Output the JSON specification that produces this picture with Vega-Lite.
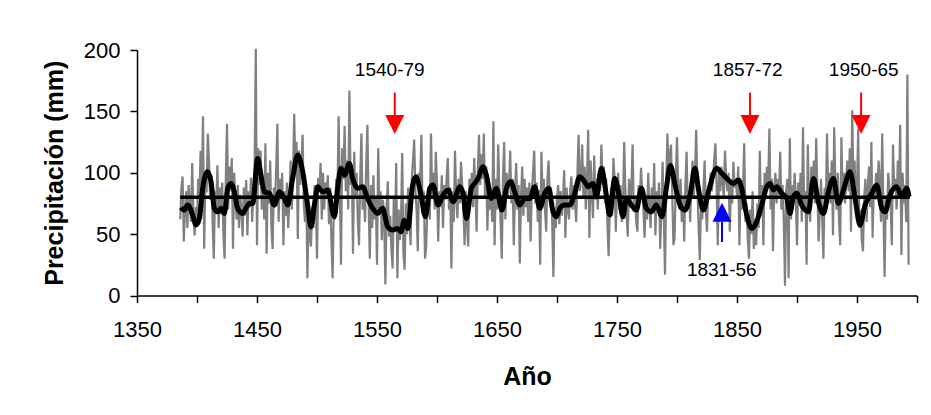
{
  "$schema": "https://vega.github.io/schema/vega-lite/v6.json",
  "autosize": "none",
  "width": 780,
  "height": 245.5,
  "padding": {"left": 137, "top": 50, "right": 14, "bottom": 119.5},
  "background": "white",
  "config": {"view": {"stroke": null}, "font": "Liberation Sans"},
  "datasets": {
    "annual": [
      {"a":1386,"p":62},{"a":1387,"p":88},{"a":1388,"p":97},{"a":1389,"p":44},
      {"a":1390,"p":70},{"a":1391,"p":85},{"a":1392,"p":55},{"a":1393,"p":90},{"a":1394,"p":75},{"a":1395,"p":60},{"a":1396,"p":108},{"a":1397,"p":66},{"a":1398,"p":49},{"a":1399,"p":72},
      {"a":1400,"p":58},{"a":1401,"p":95},{"a":1402,"p":80},{"a":1403,"p":118},{"a":1404,"p":90},{"a":1405,"p":146},{"a":1406,"p":38},{"a":1407,"p":100},{"a":1408,"p":84},{"a":1409,"p":132},
      {"a":1410,"p":110},{"a":1411,"p":78},{"a":1412,"p":98},{"a":1413,"p":60},{"a":1414,"p":30},{"a":1415,"p":85},{"a":1416,"p":70},{"a":1417,"p":106},{"a":1418,"p":55},{"a":1419,"p":88},
      {"a":1420,"p":66},{"a":1421,"p":92},{"a":1422,"p":50},{"a":1423,"p":30},{"a":1424,"p":95},{"a":1425,"p":140},{"a":1426,"p":70},{"a":1427,"p":105},{"a":1428,"p":85},{"a":1429,"p":112},
      {"a":1430,"p":38},{"a":1431,"p":100},{"a":1432,"p":78},{"a":1433,"p":62},{"a":1434,"p":90},{"a":1435,"p":55},{"a":1436,"p":82},{"a":1437,"p":70},{"a":1438,"p":48},{"a":1439,"p":88},
      {"a":1440,"p":65},{"a":1441,"p":94},{"a":1442,"p":49},{"a":1443,"p":85},{"a":1444,"p":72},{"a":1445,"p":96},{"a":1446,"p":60},{"a":1447,"p":88},{"a":1448,"p":105},{"a":1449,"p":201},
      {"a":1450,"p":41},{"a":1451,"p":120},{"a":1452,"p":90},{"a":1453,"p":118},{"a":1454,"p":70},{"a":1455,"p":95},{"a":1456,"p":62},{"a":1457,"p":124},{"a":1458,"p":34},{"a":1459,"p":100},
      {"a":1460,"p":75},{"a":1461,"p":110},{"a":1462,"p":56},{"a":1463,"p":38},{"a":1464,"p":88},{"a":1465,"p":72},{"a":1466,"p":105},{"a":1467,"p":140},{"a":1468,"p":60},{"a":1469,"p":95},
      {"a":1470,"p":80},{"a":1471,"p":100},{"a":1472,"p":41},{"a":1473,"p":85},{"a":1474,"p":65},{"a":1475,"p":92},{"a":1476,"p":55},{"a":1477,"p":78},{"a":1478,"p":110},{"a":1479,"p":70},
      {"a":1480,"p":95},{"a":1481,"p":148},{"a":1482,"p":100},{"a":1483,"p":125},{"a":1484,"p":46},{"a":1485,"p":118},{"a":1486,"p":90},{"a":1487,"p":105},{"a":1488,"p":131},{"a":1489,"p":75},
      {"a":1490,"p":60},{"a":1491,"p":85},{"a":1492,"p":14},{"a":1493,"p":70},{"a":1494,"p":48},{"a":1495,"p":40},{"a":1496,"p":72},{"a":1497,"p":55},{"a":1498,"p":90},{"a":1499,"p":78},
      {"a":1500,"p":30},{"a":1501,"p":96},{"a":1502,"p":85},{"a":1503,"p":108},{"a":1504,"p":62},{"a":1505,"p":100},{"a":1506,"p":70},{"a":1507,"p":92},{"a":1508,"p":80},{"a":1509,"p":98},
      {"a":1510,"p":58},{"a":1511,"p":88},{"a":1512,"p":45},{"a":1513,"p":14},{"a":1514,"p":70},{"a":1515,"p":62},{"a":1516,"p":95},{"a":1517,"p":78},{"a":1518,"p":146},{"a":1519,"p":90},
      {"a":1520,"p":25},{"a":1521,"p":120},{"a":1522,"p":95},{"a":1523,"p":138},{"a":1524,"p":85},{"a":1525,"p":110},{"a":1526,"p":70},{"a":1527,"p":167},{"a":1528,"p":90},{"a":1529,"p":105},
      {"a":1530,"p":34},{"a":1531,"p":117},{"a":1532,"p":80},{"a":1533,"p":100},{"a":1534,"p":62},{"a":1535,"p":41},{"a":1536,"p":95},{"a":1537,"p":132},{"a":1538,"p":70},{"a":1539,"p":88},
      {"a":1540,"p":60},{"a":1541,"p":105},{"a":1542,"p":139},{"a":1543,"p":75},{"a":1544,"p":30},{"a":1545,"p":90},{"a":1546,"p":55},{"a":1547,"p":98},{"a":1548,"p":62},{"a":1549,"p":80},
      {"a":1550,"p":25},{"a":1551,"p":120},{"a":1552,"p":70},{"a":1553,"p":85},{"a":1554,"p":45},{"a":1555,"p":78},{"a":1556,"p":60},{"a":1557,"p":9},{"a":1558,"p":72},{"a":1559,"p":93},
      {"a":1560,"p":48},{"a":1561,"p":65},{"a":1562,"p":38},{"a":1563,"p":22},{"a":1564,"p":80},{"a":1565,"p":55},{"a":1566,"p":108},{"a":1567,"p":14},{"a":1568,"p":70},{"a":1569,"p":45},
      {"a":1570,"p":60},{"a":1571,"p":116},{"a":1572,"p":35},{"a":1573,"p":21},{"a":1574,"p":75},{"a":1575,"p":50},{"a":1576,"p":88},{"a":1577,"p":62},{"a":1578,"p":41},{"a":1579,"p":95},
      {"a":1580,"p":110},{"a":1581,"p":127},{"a":1582,"p":85},{"a":1583,"p":70},{"a":1584,"p":36},{"a":1585,"p":100},{"a":1586,"p":92},{"a":1587,"p":131},{"a":1588,"p":68},{"a":1589,"p":85},
      {"a":1590,"p":30},{"a":1591,"p":40},{"a":1592,"p":75},{"a":1593,"p":88},{"a":1594,"p":62},{"a":1595,"p":132},{"a":1596,"p":80},{"a":1597,"p":100},{"a":1598,"p":70},{"a":1599,"p":117},
      {"a":1600,"p":90},{"a":1601,"p":44},{"a":1602,"p":85},{"a":1603,"p":72},{"a":1604,"p":98},{"a":1605,"p":55},{"a":1606,"p":90},{"a":1607,"p":78},{"a":1608,"p":95},{"a":1609,"p":112},
      {"a":1610,"p":70},{"a":1611,"p":88},{"a":1612,"p":22},{"a":1613,"p":85},{"a":1614,"p":60},{"a":1615,"p":118},{"a":1616,"p":80},{"a":1617,"p":63},{"a":1618,"p":95},{"a":1619,"p":75},
      {"a":1620,"p":109},{"a":1621,"p":90},{"a":1622,"p":70},{"a":1623,"p":41},{"a":1624,"p":85},{"a":1625,"p":60},{"a":1626,"p":40},{"a":1627,"p":95},{"a":1628,"p":78},{"a":1629,"p":100},
      {"a":1630,"p":72},{"a":1631,"p":112},{"a":1632,"p":85},{"a":1633,"p":52},{"a":1634,"p":100},{"a":1635,"p":131},{"a":1636,"p":90},{"a":1637,"p":115},{"a":1638,"p":95},{"a":1639,"p":132},
      {"a":1640,"p":80},{"a":1641,"p":105},{"a":1642,"p":53},{"a":1643,"p":92},{"a":1644,"p":70},{"a":1645,"p":88},{"a":1646,"p":60},{"a":1647,"p":142},{"a":1648,"p":41},{"a":1649,"p":95},
      {"a":1650,"p":70},{"a":1651,"p":123},{"a":1652,"p":85},{"a":1653,"p":60},{"a":1654,"p":30},{"a":1655,"p":98},{"a":1656,"p":125},{"a":1657,"p":62},{"a":1658,"p":100},{"a":1659,"p":80},
      {"a":1660,"p":90},{"a":1661,"p":118},{"a":1662,"p":75},{"a":1663,"p":95},{"a":1664,"p":41},{"a":1665,"p":85},{"a":1666,"p":108},{"a":1667,"p":70},{"a":1668,"p":90},{"a":1669,"p":26},
      {"a":1670,"p":80},{"a":1671,"p":105},{"a":1672,"p":65},{"a":1673,"p":95},{"a":1674,"p":72},{"a":1675,"p":88},{"a":1676,"p":60},{"a":1677,"p":92},{"a":1678,"p":44},{"a":1679,"p":85},
      {"a":1680,"p":100},{"a":1681,"p":118},{"a":1682,"p":75},{"a":1683,"p":92},{"a":1684,"p":60},{"a":1685,"p":86},{"a":1686,"p":25},{"a":1687,"p":117},{"a":1688,"p":80},{"a":1689,"p":95},
      {"a":1690,"p":70},{"a":1691,"p":52},{"a":1692,"p":95},{"a":1693,"p":110},{"a":1694,"p":78},{"a":1695,"p":88},{"a":1696,"p":60},{"a":1697,"p":15},{"a":1698,"p":72},{"a":1699,"p":55},
      {"a":1700,"p":80},{"a":1701,"p":90},{"a":1702,"p":58},{"a":1703,"p":85},{"a":1704,"p":65},{"a":1705,"p":78},{"a":1706,"p":102},{"a":1707,"p":47},{"a":1708,"p":88},{"a":1709,"p":70},
      {"a":1710,"p":62},{"a":1711,"p":85},{"a":1712,"p":97},{"a":1713,"p":70},{"a":1714,"p":90},{"a":1715,"p":75},{"a":1716,"p":60},{"a":1717,"p":100},{"a":1718,"p":131},{"a":1719,"p":85},
      {"a":1720,"p":95},{"a":1721,"p":123},{"a":1722,"p":80},{"a":1723,"p":105},{"a":1724,"p":70},{"a":1725,"p":95},{"a":1726,"p":135},{"a":1727,"p":47},{"a":1728,"p":110},{"a":1729,"p":85},
      {"a":1730,"p":63},{"a":1731,"p":114},{"a":1732,"p":78},{"a":1733,"p":95},{"a":1734,"p":70},{"a":1735,"p":100},{"a":1736,"p":85},{"a":1737,"p":123},{"a":1738,"p":90},{"a":1739,"p":105},
      {"a":1740,"p":75},{"a":1741,"p":95},{"a":1742,"p":60},{"a":1743,"p":32},{"a":1744,"p":70},{"a":1745,"p":88},{"a":1746,"p":65},{"a":1747,"p":112},{"a":1748,"p":95},{"a":1749,"p":52},
      {"a":1750,"p":88},{"a":1751,"p":100},{"a":1752,"p":70},{"a":1753,"p":90},{"a":1754,"p":60},{"a":1755,"p":75},{"a":1756,"p":125},{"a":1757,"p":85},{"a":1758,"p":65},{"a":1759,"p":48},
      {"a":1760,"p":95},{"a":1761,"p":72},{"a":1762,"p":88},{"a":1763,"p":123},{"a":1764,"p":68},{"a":1765,"p":80},{"a":1766,"p":60},{"a":1767,"p":52},{"a":1768,"p":90},{"a":1769,"p":75},
      {"a":1770,"p":104},{"a":1771,"p":85},{"a":1772,"p":70},{"a":1773,"p":47},{"a":1774,"p":80},{"a":1775,"p":62},{"a":1776,"p":100},{"a":1777,"p":72},{"a":1778,"p":55},{"a":1779,"p":88},
      {"a":1780,"p":70},{"a":1781,"p":108},{"a":1782,"p":49},{"a":1783,"p":85},{"a":1784,"p":75},{"a":1785,"p":92},{"a":1786,"p":38},{"a":1787,"p":70},{"a":1788,"p":109},{"a":1789,"p":65},
      {"a":1790,"p":17},{"a":1791,"p":90},{"a":1792,"p":132},{"a":1793,"p":100},{"a":1794,"p":115},{"a":1795,"p":123},{"a":1796,"p":85},{"a":1797,"p":41},{"a":1798,"p":47},{"a":1799,"p":95},
      {"a":1800,"p":129},{"a":1801,"p":88},{"a":1802,"p":70},{"a":1803,"p":95},{"a":1804,"p":60},{"a":1805,"p":80},{"a":1806,"p":44},{"a":1807,"p":90},{"a":1808,"p":117},{"a":1809,"p":72},
      {"a":1810,"p":85},{"a":1811,"p":60},{"a":1812,"p":95},{"a":1813,"p":110},{"a":1814,"p":80},{"a":1815,"p":100},{"a":1816,"p":135},{"a":1817,"p":90},{"a":1818,"p":55},{"a":1819,"p":29},
      {"a":1820,"p":75},{"a":1821,"p":62},{"a":1822,"p":85},{"a":1823,"p":110},{"a":1824,"p":70},{"a":1825,"p":52},{"a":1826,"p":90},{"a":1827,"p":78},{"a":1828,"p":100},{"a":1829,"p":85},
      {"a":1830,"p":95},{"a":1831,"p":110},{"a":1832,"p":124},{"a":1833,"p":90},{"a":1834,"p":41},{"a":1835,"p":100},{"a":1836,"p":85},{"a":1837,"p":105},{"a":1838,"p":92},{"a":1839,"p":80},
      {"a":1840,"p":118},{"a":1841,"p":95},{"a":1842,"p":85},{"a":1843,"p":100},{"a":1844,"p":52},{"a":1845,"p":90},{"a":1846,"p":75},{"a":1847,"p":109},{"a":1848,"p":88},{"a":1849,"p":95},
      {"a":1850,"p":80},{"a":1851,"p":105},{"a":1852,"p":41},{"a":1853,"p":90},{"a":1854,"p":70},{"a":1855,"p":85},{"a":1856,"p":124},{"a":1857,"p":60},{"a":1858,"p":75},{"a":1859,"p":45},
      {"a":1860,"p":30},{"a":1861,"p":70},{"a":1862,"p":50},{"a":1863,"p":85},{"a":1864,"p":38},{"a":1865,"p":62},{"a":1866,"p":41},{"a":1867,"p":75},{"a":1868,"p":55},{"a":1869,"p":118},
      {"a":1870,"p":65},{"a":1871,"p":90},{"a":1872,"p":41},{"a":1873,"p":100},{"a":1874,"p":80},{"a":1875,"p":105},{"a":1876,"p":92},{"a":1877,"p":136},{"a":1878,"p":70},{"a":1879,"p":95},
      {"a":1880,"p":36},{"a":1881,"p":88},{"a":1882,"p":100},{"a":1883,"p":75},{"a":1884,"p":95},{"a":1885,"p":82},{"a":1886,"p":117},{"a":1887,"p":70},{"a":1888,"p":90},{"a":1889,"p":60},
      {"a":1890,"p":8},{"a":1891,"p":85},{"a":1892,"p":95},{"a":1893,"p":14},{"a":1894,"p":128},{"a":1895,"p":62},{"a":1896,"p":90},{"a":1897,"p":75},{"a":1898,"p":100},{"a":1899,"p":80},
      {"a":1900,"p":41},{"a":1901,"p":92},{"a":1902,"p":75},{"a":1903,"p":100},{"a":1904,"p":60},{"a":1905,"p":137},{"a":1906,"p":70},{"a":1907,"p":85},{"a":1908,"p":25},{"a":1909,"p":123},
      {"a":1910,"p":80},{"a":1911,"p":60},{"a":1912,"p":105},{"a":1913,"p":90},{"a":1914,"p":110},{"a":1915,"p":75},{"a":1916,"p":128},{"a":1917,"p":85},{"a":1918,"p":44},{"a":1919,"p":70},
      {"a":1920,"p":95},{"a":1921,"p":62},{"a":1922,"p":30},{"a":1923,"p":88},{"a":1924,"p":70},{"a":1925,"p":132},{"a":1926,"p":85},{"a":1927,"p":100},{"a":1928,"p":75},{"a":1929,"p":110},
      {"a":1930,"p":49},{"a":1931,"p":137},{"a":1932,"p":90},{"a":1933,"p":70},{"a":1934,"p":100},{"a":1935,"p":62},{"a":1936,"p":41},{"a":1937,"p":129},{"a":1938,"p":85},{"a":1939,"p":100},
      {"a":1940,"p":75},{"a":1941,"p":95},{"a":1942,"p":110},{"a":1943,"p":85},{"a":1944,"p":120},{"a":1945,"p":52},{"a":1946,"p":151},{"a":1947,"p":95},{"a":1948,"p":110},{"a":1949,"p":75},
      {"a":1950,"p":88},{"a":1951,"p":136},{"a":1952,"p":55},{"a":1953,"p":70},{"a":1954,"p":45},{"a":1955,"p":36},{"a":1956,"p":80},{"a":1957,"p":95},{"a":1958,"p":60},{"a":1959,"p":88},
      {"a":1960,"p":105},{"a":1961,"p":72},{"a":1962,"p":125},{"a":1963,"p":47},{"a":1964,"p":90},{"a":1965,"p":78},{"a":1966,"p":100},{"a":1967,"p":85},{"a":1968,"p":110},{"a":1969,"p":95},
      {"a":1970,"p":60},{"a":1971,"p":132},{"a":1972,"p":70},{"a":1973,"p":15},{"a":1974,"p":80},{"a":1975,"p":62},{"a":1976,"p":100},{"a":1977,"p":88},{"a":1978,"p":75},{"a":1979,"p":41},
      {"a":1980,"p":123},{"a":1981,"p":85},{"a":1982,"p":95},{"a":1983,"p":70},{"a":1984,"p":110},{"a":1985,"p":80},{"a":1986,"p":139},{"a":1987,"p":33},{"a":1988,"p":100},{"a":1989,"p":75},
      {"a":1990,"p":90},{"a":1991,"p":60},{"a":1992,"p":180},{"a":1993,"p":25}
    ],
    "smooth": [
      {"a":1386.7,"s":71.8},{"a":1389.5,"s":69.6},{"a":1392.2,"s":73.7},{"a":1396.4,"s":65.5},{"a":1399.2,"s":57.4},{"a":1402,"s":62.8},{"a":1404.7,"s":87.3},{"a":1408.9,"s":100.8},{"a":1411.7,"s":92.7},{"a":1414.5,"s":71},{"a":1417.2,"s":68.2},{"a":1420,"s":71},{"a":1422.8,"s":66.9},{"a":1425.6,"s":87.3},{"a":1428.3,"s":91.3},{"a":1431.1,"s":84.5},{"a":1433.9,"s":71},{"a":1438,"s":66.9},{"a":1440.8,"s":71},{"a":1443.6,"s":75},{"a":1446.4,"s":75},{"a":1450.6,"s":111.7},{"a":1453.3,"s":98.1},{"a":1456.1,"s":84.5},{"a":1460.3,"s":83.2},{"a":1464.5,"s":73.7},{"a":1468.6,"s":84.5},{"a":1472.8,"s":79.1},{"a":1475.6,"s":73.7},{"a":1479.7,"s":95.4},{"a":1483.9,"s":114.4},{"a":1488.1,"s":100.8},{"a":1492.2,"s":73.7},{"a":1495,"s":56},{"a":1497.8,"s":73.7},{"a":1500.6,"s":88.6},{"a":1504.7,"s":84.5},{"a":1508.9,"s":85.9},{"a":1514.5,"s":64.2},{"a":1517.2,"s":87.3},{"a":1520,"s":103.6},{"a":1522.8,"s":98.1},{"a":1527,"s":107.6},{"a":1529.7,"s":95.4},{"a":1533.9,"s":87.3},{"a":1538.1,"s":88.6},{"a":1542.2,"s":79.1},{"a":1546.4,"s":71},{"a":1550.6,"s":66.9},{"a":1554.7,"s":71},{"a":1558.9,"s":56},{"a":1563.1,"s":53.3},{"a":1567.2,"s":54.6},{"a":1570,"s":51.9},{"a":1572.8,"s":61.4},{"a":1575.6,"s":54.6},{"a":1579.7,"s":90},{"a":1582.5,"s":96.8},{"a":1586.7,"s":81.8},{"a":1590.3,"s":64.2},
      {"a":1594,"s":87.3},{"a":1596.7,"s":90},{"a":1600.9,"s":73.7},{"a":1605,"s":81.8},{"a":1609.2,"s":85.9},{"a":1613.4,"s":76.4},{"a":1619,"s":88.6},{"a":1621.7,"s":83.2},{"a":1624.5,"s":62.8},{"a":1628.6,"s":87.3},{"a":1631.4,"s":91.3},{"a":1634.2,"s":95.4},{"a":1638.4,"s":104.9},{"a":1641.1,"s":98.1},{"a":1645.3,"s":79.1},{"a":1649.5,"s":87.3},{"a":1654.2,"s":69.6},{"a":1657.8,"s":87.3},{"a":1661.4,"s":92.7},{"a":1664.7,"s":84.5},{"a":1669,"s":73.7},{"a":1673.1,"s":79.1},{"a":1677.3,"s":79.1},{"a":1681.4,"s":88.6},{"a":1685.6,"s":71},{"a":1689.8,"s":83.2},{"a":1693.1,"s":87.3},{"a":1696.7,"s":68.2},{"a":1699.5,"s":64.2},{"a":1702.3,"s":71},{"a":1706.4,"s":73.7},{"a":1710.6,"s":73.7},{"a":1714.8,"s":83.2},{"a":1718.9,"s":96.8},{"a":1723.1,"s":92.7},{"a":1725.9,"s":88.6},{"a":1730,"s":91.3},{"a":1732.8,"s":80.5},{"a":1737,"s":103.6},{"a":1741.1,"s":81.8},{"a":1743.9,"s":65.5},{"a":1748.1,"s":95.4},{"a":1751.4,"s":83.2},{"a":1755,"s":64.2},{"a":1757.8,"s":79.1},{"a":1762,"s":73.7},{"a":1766.1,"s":69.6},{"a":1770.3,"s":87.3},{"a":1774.5,"s":71},{"a":1778.6,"s":68.2},{"a":1782.8,"s":73.7},{"a":1787.5,"s":64.2},{"a":1791.1,"s":87.3},{"a":1794.5,"s":106},
      {"a":1798.4,"s":90},{"a":1802.5,"s":73.7},{"a":1806.7,"s":69.6},{"a":1810.9,"s":81.8},{"a":1815,"s":103.6},{"a":1817.8,"s":87.3},{"a":1822,"s":69.6},{"a":1826.2,"s":84.5},{"a":1833.1,"s":103.6},{"a":1837.3,"s":99.5},{"a":1841.4,"s":95.4},{"a":1847,"s":91.3},{"a":1851.2,"s":94.1},{"a":1853.9,"s":87.3},{"a":1858.1,"s":65.5},{"a":1862.3,"s":54.6},{"a":1866.4,"s":60.1},{"a":1870.6,"s":73.7},{"a":1874.8,"s":88.6},{"a":1877.5,"s":91.3},{"a":1880.3,"s":85.9},{"a":1883.1,"s":88.6},{"a":1887.3,"s":83.2},{"a":1891.4,"s":79.1},{"a":1894.2,"s":66.9},{"a":1897,"s":80.5},{"a":1899.8,"s":83.2},{"a":1903.9,"s":73.7},{"a":1909.5,"s":68.2},{"a":1913.7,"s":95.4},{"a":1917.8,"s":76.4},{"a":1922,"s":66.9},{"a":1926.2,"s":84.5},{"a":1930.3,"s":95.4},{"a":1934.5,"s":75},{"a":1938.7,"s":85.9},{"a":1944.2,"s":100.8},{"a":1948.4,"s":79.1},{"a":1952.5,"s":57.4},{"a":1956.7,"s":73.7},{"a":1962.3,"s":83.2},{"a":1966.4,"s":90},{"a":1970.6,"s":71},{"a":1973.4,"s":68.2},{"a":1977.5,"s":81.8},{"a":1983.1,"s":88.6},{"a":1987.3,"s":80.5},{"a":1991.4,"s":87.3},{"a":1993.4,"s":80.5}
    ],
    "mean": [{"a":1386,"m":80},{"a":1994,"m":80}],
    "events": [
      {"t":"1540-79","lx":1560.6,"ly":183.7,"ax":1564.8,"s1":165.3,"s2":146.6,"tri":139.3,"k":"seco","d":"down"},
      {"t":"1857-72","lx":1858.9,"ly":183.7,"ax":1860.8,"s1":165.3,"s2":146.6,"tri":139.3,"k":"seco","d":"down"},
      {"t":"1950-65","lx":1955.6,"ly":183.7,"ax":1953.4,"s1":165.3,"s2":146.6,"tri":139.3,"k":"seco","d":"down"},
      {"t":"1831-56","lx":1837.3,"ly":20.8,"ax":1837.5,"s1":43.6,"s2":60.1,"tri":67.8,"k":"humedo","d":"up"}
    ]
  },
  "layer": [
    {
      "data": {"name": "annual"},
      "mark": {"type": "line", "color": "#808080", "strokeWidth": 2.2},
      "encoding": {
        "x": {"field": "a", "type": "quantitative",
          "scale": {"domain": [1350, 2000], "nice": false, "zero": false},
          "axis": {
            "title": "Año", "titleFont": "Liberation Sans", "titleFontSize": 25, "titleFontWeight": "bold", "titleColor": "black", "titlePadding": 24,
            "values": [1350,1400,1450,1500,1550,1600,1650,1700,1750,1800,1850,1900,1950,2000],
            "labelExpr": "(datum.value - 1350) % 100 == 0 ? datum.value : ''",
            "labelFont": "Liberation Sans", "labelFontSize": 22, "labelColor": "black", "labelPadding": 17,
            "tickSize": 7, "tickColor": "black", "domainColor": "black", "domainWidth": 1.5, "tickWidth": 1.5,
            "grid": false, "labelOverlap": false, "labelFlush": false
          }
        },
        "y": {"field": "p", "type": "quantitative",
          "scale": {"domain": [0, 200], "nice": false},
          "axis": {
            "title": "Precipitación (mm)", "titleFont": "Liberation Sans", "titleFontSize": 25, "titleFontWeight": "bold", "titleColor": "black", "titlePadding": 16,
            "values": [0, 50, 100, 150, 200],
            "labelFont": "Liberation Sans", "labelFontSize": 22, "labelColor": "black", "labelPadding": 10,
            "tickSize": 7, "tickColor": "black", "domainColor": "black", "domainWidth": 1.5, "tickWidth": 1.5,
            "grid": false
          }
        }
      }
    },
    {
      "data": {"name": "smooth"},
      "mark": {"type": "line", "color": "black", "strokeWidth": 5, "interpolate": "monotone"},
      "encoding": {
        "x": {"field": "a", "type": "quantitative"},
        "y": {"field": "s", "type": "quantitative"}
      }
    },
    {
      "data": {"name": "mean"},
      "mark": {"type": "line", "color": "black", "strokeWidth": 3.5},
      "encoding": {
        "x": {"field": "a", "type": "quantitative"},
        "y": {"field": "m", "type": "quantitative"}
      }
    },
    {
      "data": {"name": "events"},
      "mark": {"type": "rule", "strokeWidth": 2},
      "encoding": {
        "x": {"field": "ax", "type": "quantitative"},
        "y": {"field": "s1", "type": "quantitative"},
        "y2": {"field": "s2"},
        "color": {"field": "k", "type": "nominal", "scale": {"domain": ["seco", "humedo"], "range": ["#ff0000", "#0000ff"]}, "legend": null}
      }
    },
    {
      "data": {"name": "events"},
      "transform": [{"filter": "datum.d == 'down'"}],
      "mark": {"type": "point", "filled": true, "opacity": 1, "shape": "M-1,-1L1,-1L0,1Z", "size": 361, "strokeWidth": 0},
      "encoding": {
        "x": {"field": "ax", "type": "quantitative"},
        "y": {"field": "tri", "type": "quantitative"},
        "color": {"field": "k", "type": "nominal", "scale": {"domain": ["seco", "humedo"], "range": ["#ff0000", "#0000ff"]}, "legend": null}
      }
    },
    {
      "data": {"name": "events"},
      "transform": [{"filter": "datum.d == 'up'"}],
      "mark": {"type": "point", "filled": true, "opacity": 1, "shape": "M-1,1L1,1L0,-1Z", "size": 361, "strokeWidth": 0},
      "encoding": {
        "x": {"field": "ax", "type": "quantitative"},
        "y": {"field": "tri", "type": "quantitative"},
        "color": {"field": "k", "type": "nominal", "scale": {"domain": ["seco", "humedo"], "range": ["#ff0000", "#0000ff"]}, "legend": null}
      }
    },
    {
      "data": {"name": "events"},
      "mark": {"type": "text", "font": "Liberation Sans", "fontSize": 19, "color": "black", "align": "center", "baseline": "middle"},
      "encoding": {
        "x": {"field": "lx", "type": "quantitative"},
        "y": {"field": "ly", "type": "quantitative"},
        "text": {"field": "t", "type": "nominal"}
      }
    }
  ]
}
